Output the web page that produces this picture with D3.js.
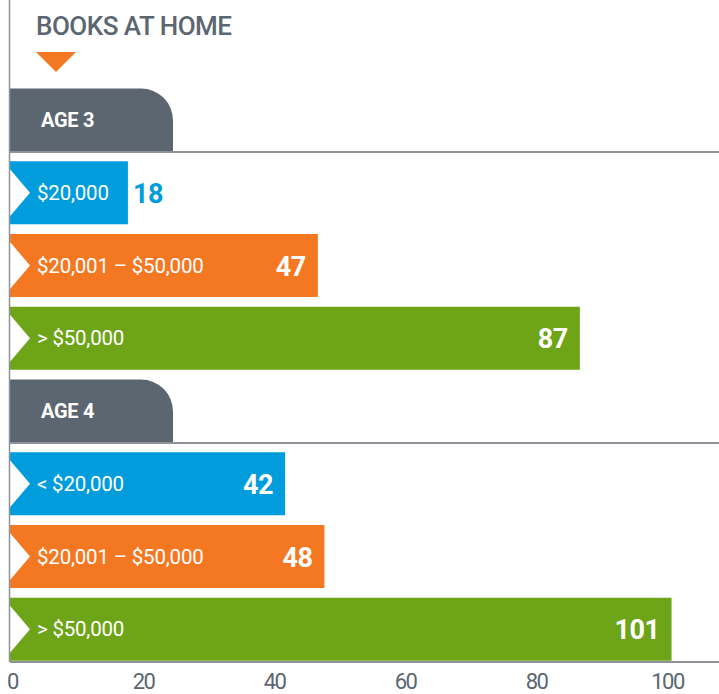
<!DOCTYPE html>
<html>
<head>
<meta charset="utf-8">
<script src="https://cdn.jsdelivr.net/npm/d3@7"></script>
<style>
  body { margin: 0; background: #fff; }
  svg text { font-family: Roboto, "DejaVu Sans Condensed", sans-serif; }
</style>
</head>
<body>
<svg id="chart" width="719" height="694"></svg>
<script>
// data
const title = "BOOKS AT HOME";
const groups = ["AGE 3", "AGE 4"];
const incomeLabels = [
  ["$20,000", "$20,001 – $50,000", "> $50,000"],
  ["< $20,000", "$20,001 – $50,000", "> $50,000"]
];
const bookCounts = [
  [18, 47, 87],
  [42, 48, 101]
];
const tickValues = [0, 20, 40, 60, 80, 100];

const barColors = ["#009cdc", "#f47822", "#6ea418"];
const grey = "#5b6670";
const lineGrey = "#8d9398";

const svg = d3.select("#chart");
const left = 10, axisY = 662;

// rows: a tab then three bars for each group
const rows = [];
groups.forEach((g, gi) => {
  rows.push({ type: "tab", label: g });
  incomeLabels[gi].forEach((lab, i) => {
    rows.push({ type: "bar", label: lab, value: bookCounts[gi][i], color: barColors[i] });
  });
});

const x = d3.scaleLinear().domain([0, 100]).range([left, left + 655]);
const y = d3.scaleBand()
  .domain(d3.range(rows.length))
  .range([88.5, 88.5 + 72.75 * (rows.length - 0.134)])
  .paddingInner(0.134)
  .paddingOuter(0);
const h = y.bandwidth();

// title + marker
svg.append("text")
  .attr("x", 36).attr("y", 35)
  .attr("fill", grey)
  .attr("font-size", 26)
  .attr("font-weight", 500)
  .attr("letter-spacing", -0.5)
  .text(title);

svg.append("path")
  .attr("d", "M36,52 L76,52 L56,72 Z")
  .attr("fill", "#f47822");

// tabs
const tabRight = 173, r = 32;
rows.forEach((d, i) => {
  if (d.type !== "tab") return;
  const top = y(i), bot = top + h;
  svg.append("path")
    .attr("d", `M${left},${bot} V${top} H${tabRight - r} A${r},${r} 0 0 1 ${tabRight},${top + r} V${bot} Z`)
    .attr("fill", grey);
  svg.append("line")
    .attr("x1", left).attr("x2", 719)
    .attr("y1", bot + 0.5).attr("y2", bot + 0.5)
    .attr("stroke", lineGrey).attr("stroke-width", 2);
  svg.append("text")
    .attr("x", 41).attr("y", top + h / 2 + 7)
    .attr("fill", "#fff")
    .attr("font-size", 20)
    .attr("font-weight", 700)
    .attr("letter-spacing", -0.3)
    .text(d.label);
});

// bars
const barRows = rows.map((d, i) => ({ ...d, i })).filter(d => d.type === "bar");
const bars = svg.append("g").selectAll("g")
  .data(barRows)
  .join("g");

bars.append("rect")
  .attr("x", left)
  .attr("y", d => y(d.i))
  .attr("width", d => x(d.value) - left)
  .attr("height", h)
  .attr("fill", d => d.color);

// white chevron notch
bars.append("path")
  .attr("d", d => {
    const t = y(d.i);
    return `M${left},${t + 8} L${left + 20},${t + h / 2} L${left},${t + h - 8} Z`;
  })
  .attr("fill", "#fff");

bars.append("text")
  .attr("x", 37)
  .attr("y", d => y(d.i) + h / 2 + 7)
  .attr("fill", "#fff")
  .attr("font-size", 20.5)
  .attr("letter-spacing", -0.2)
  .text(d => d.label);

bars.append("text")
  .attr("x", d => d.value < 25 ? x(d.value) + 5 : x(d.value) - 12)
  .attr("text-anchor", d => d.value < 25 ? "start" : "end")
  .attr("y", d => y(d.i) + h / 2 + 10)
  .attr("fill", d => d.value < 25 ? d.color : "#fff")
  .attr("font-size", 27)
  .attr("font-weight", 700)
  .attr("letter-spacing", -0.5)
  .text(d => d.value);

// axis lines
svg.append("line")
  .attr("x1", left - 0.5).attr("x2", left - 0.5)
  .attr("y1", 0).attr("y2", axisY)
  .attr("stroke", lineGrey).attr("stroke-width", 1.5);

svg.append("line")
  .attr("x1", left).attr("x2", 719)
  .attr("y1", axisY).attr("y2", axisY)
  .attr("stroke", lineGrey).attr("stroke-width", 2);

const axis = svg.append("g")
  .attr("transform", `translate(0,${axisY})`)
  .call(d3.axisBottom(x).tickValues(tickValues).tickSize(0).tickPadding(11));
axis.select(".domain").remove();
axis.selectAll("text")
  .attr("fill", grey)
  .attr("font-size", 22)
  .attr("font-family", "Roboto, sans-serif")
  .attr("letter-spacing", -1.5)
  .attr("dx", 2);
</script>
</body>
</html>
